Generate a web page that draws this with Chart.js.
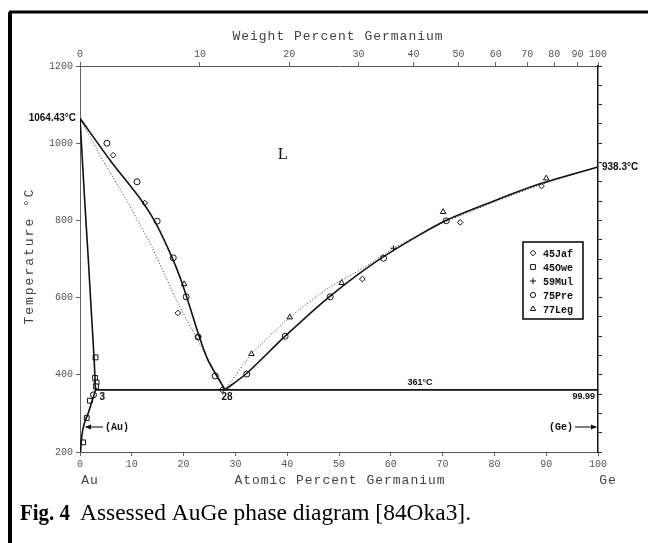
<!DOCTYPE html>
<html>
<head>
<meta charset="utf-8">
<script src="https://cdn.jsdelivr.net/npm/chart.js@4.4.1/dist/chart.umd.min.js"></script>
<style>
  html, body { margin: 0; padding: 0; background: #fff; }
  #wrap { width: 658px; height: 543px; }
</style>
</head>
<body>
<div id="wrap"><canvas id="phase" width="658" height="543"></canvas></div>
<script>
// --- DATA (atomic % Ge, temperature in °C) ---
const liqLeftX = [0, 5.8, 11.8, 14.5, 17.8, 19.7, 21.4, 22.8, 24.7, 28];
const liqLeftT = [1064.43, 956, 853, 796, 703, 638, 568, 508, 438, 361];

const calcLeftX = [0, 4.4, 9, 14, 18.6, 23.3, 28];
const calcLeftT = [1064.43, 956, 852, 728, 594, 475, 361];

const solidusX = [0, 0.9, 1.6, 2.2, 2.7, 3];
const solidusT = [1064.43, 853, 700, 560, 447, 361];

const solvusX = [0.1, 0.3, 0.6, 1.1, 1.6, 2.4, 3];
const solvusT = [200, 235, 262, 285, 301, 335, 361];

const liqRightX = [28, 32.2, 39.6, 48.3, 58.6, 70.5, 80.4, 89.1, 100];
const liqRightT = [361, 404, 500, 604, 706, 799, 853, 896, 938.3];

const calcRightX = [28, 33.1, 40.5, 48.3, 54.5, 60.5, 70.5, 80.4, 89.1, 100];
const calcRightT = [361, 454, 549, 628, 675, 728, 796, 850, 893, 938.3];

const eutecticX = [3, 99.99];
const eutecticT = [361, 361];

// experimental points
const jafPts = [[6.4, 969], [12.5, 845], [18.9, 560], [22.8, 498], [27.4, 361], [54.5, 648], [73.4, 795], [89.1, 889]];
const owePts = [[3.0, 445], [2.9, 392], [3.2, 380], [3.1, 370], [1.9, 333], [1.3, 288], [0.6, 225]];
const mulPts = [[60.5, 728]];
const prePts = [[5.2, 1000], [11, 900], [14.9, 798], [18, 703], [20.5, 602], [22.8, 498], [26.1, 397],
                [32.2, 402], [39.6, 500], [48.3, 602], [58.6, 702], [70.7, 799], [2.6, 348]];
const legPts = [[20.1, 635], [33.1, 454], [40.5, 549], [50.5, 638], [70.1, 822], [90, 909]];

// top axis (weight percent) labels
const weightTicks = [0, 10, 20, 30, 40, 50, 60, 70, 80, 90, 100];
const AU = 196.97, GE = 72.61;
function wtToAt(w) {
  if (w >= 100) return 100;
  const g = w / GE, a = (100 - w) / AU;
  return 100 * g / (g + a);
}

// --- HELPERS ---
const pairs = (xs, ys) => xs.map((x, i) => ({ x: x, y: ys[i] }));
const pts = arr => arr.map(p => ({ x: p[0], y: p[1] }));

function curve(xs, ys, dotted) {
  return {
    data: pairs(xs, ys),
    showLine: true,
    borderColor: dotted ? '#333' : '#111',
    borderWidth: dotted ? 1 : 1.6,
    borderDash: dotted ? [1, 2] : [],
    pointRadius: 0,
    tension: dotted ? 0.15 : 0.25,
    fill: false
  };
}

function marks(arr, style, r) {
  return {
    data: pts(arr),
    showLine: false,
    pointStyle: style,
    pointRadius: r,
    pointBorderColor: '#111',
    pointBackgroundColor: '#fff',
    pointBorderWidth: 1
  };
}

const legendItems = [
  { label: '45Jaf', style: 'rectRot', r: 2.8 },
  { label: '45Owe', style: 'rect', r: 3.4 },
  { label: '59Mul', style: 'cross', r: 3 },
  { label: '75Pre', style: 'circle', r: 2.6 },
  { label: '77Leg', style: 'triangle', r: 3 }
];

const monoTick = { family: 'Liberation Mono', size: 10 };

// --- DECORATION PLUGIN ---
const decor = {
  id: 'decor',
  afterDraw(chart) {
    const c = chart.ctx;
    const sx = chart.scales.x, sy = chart.scales.y;
    const X = v => sx.getPixelForValue(v), Y = v => sy.getPixelForValue(v);
    c.save();

    // figure frame
    c.strokeStyle = '#000';
    c.lineWidth = 4;
    c.beginPath(); c.moveTo(10, 543); c.lineTo(10, 12); c.stroke();
    c.lineWidth = 3;
    c.beginPath(); c.moveTo(9, 12); c.lineTo(648, 12); c.stroke();

    // axis titles
    c.fillStyle = '#444';
    c.font = '13px "Liberation Mono"';
    c.letterSpacing = '1px';
    c.textAlign = 'center'; c.textBaseline = 'middle';
    c.fillText('Weight Percent Germanium', 338, 37);
    c.fillText('Atomic Percent Germanium', 340, 481);
    c.fillText('Au', 90, 481);
    c.fillText('Ge', 608, 481);
    c.save();
    c.translate(30, 256);
    c.rotate(-Math.PI / 2);
    c.letterSpacing = '2px';
    c.fillText('Temperature °C', 0, 0);
    c.restore();
    c.letterSpacing = '0px';

    // caption
    c.fillStyle = '#000';
    c.textAlign = 'left'; c.textBaseline = 'alphabetic';
    c.font = 'bold 24px "Liberation Serif"';
    c.fillText('Fig. 4', 20, 520, 50);
    c.font = '24px "Liberation Serif"';
    c.fillText('Assessed AuGe phase diagram [84Oka3].', 80, 520, 391);

    // labels inside / around plot
    c.fillStyle = '#111';
    c.textBaseline = 'middle';
    c.font = 'bold 10px "Liberation Sans"';
    c.textAlign = 'right';
    c.fillText('1064.43°C', X(0) - 4, Y(1064.43));
    c.textAlign = 'left';
    c.fillText('938.3°C', X(100) + 4, Y(938.3));
    c.font = 'bold 9px "Liberation Sans"';
    c.textAlign = 'center';
    c.fillText('361°C', 420, Y(361) - 7);
    c.textAlign = 'right';
    c.fillText('99.99', X(100) - 3, Y(361) + 7);
    c.font = 'bold 10px "Liberation Sans"';
    c.textAlign = 'left';
    c.fillText('3', X(3) + 4, Y(361) + 7);
    c.textAlign = 'center';
    c.fillText('28', X(28) + 2, Y(361) + 7);
    c.font = '17px "Liberation Serif"';
    c.fillText('L', 283, 155);

    // (Au) and (Ge) with arrows
    c.font = 'bold 10px "Liberation Mono"';
    const ya = 427;
    c.textAlign = 'left';
    c.fillText('(Au)', 105, ya);
    c.textAlign = 'right';
    c.fillText('(Ge)', 573, ya);
    c.lineWidth = 1;
    c.beginPath(); c.moveTo(86, ya); c.lineTo(103, ya); c.moveTo(575, ya); c.lineTo(596, ya); c.stroke();
    c.beginPath(); c.moveTo(85, ya); c.lineTo(91, ya - 2.5); c.lineTo(91, ya + 2.5); c.closePath(); c.fill();
    c.beginPath(); c.moveTo(597, ya); c.lineTo(591, ya - 2.5); c.lineTo(591, ya + 2.5); c.closePath(); c.fill();

    // legend box
    const lx = 523, ly = 242, lw = 60, lh = 77;
    c.fillStyle = '#fff';
    c.fillRect(lx, ly, lw, lh);
    c.lineWidth = 1.5;
    c.strokeStyle = '#000';
    c.strokeRect(lx, ly, lw, lh);
    c.font = 'bold 10px "Liberation Mono"';
    c.textAlign = 'left';
    legendItems.forEach((it, i) => {
      const yy = ly + 11 + i * 14;
      c.lineWidth = 1;
      c.strokeStyle = '#111';
      c.fillStyle = '#fff';
      Chart.helpers.drawPoint(c, { pointStyle: it.style, radius: it.r, borderWidth: 1 }, lx + 10, yy);
      c.fillStyle = '#111';
      c.fillText(it.label, lx + 20, yy + 1);
    });

    c.restore();
  }
};

// --- CHART ---
const ctx = document.getElementById('phase').getContext('2d');
new Chart(ctx, {
  type: 'scatter',
  data: {
    datasets: [
      curve(liqLeftX, liqLeftT, false),
      curve(calcLeftX, calcLeftT, true),
      curve(solidusX, solidusT, false),
      curve(solvusX, solvusT, false),
      curve(liqRightX, liqRightT, false),
      curve(calcRightX, calcRightT, true),
      curve(eutecticX, eutecticT, false),
      marks(jafPts, 'rectRot', 2.8),
      marks(owePts, 'rect', 3.4),
      marks(mulPts, 'cross', 3),
      marks(prePts, 'circle', 3),
      marks(legPts, 'triangle', 3.2)
    ]
  },
  options: {
    responsive: false,
    animation: false,
    layout: { padding: 0 },
    plugins: { legend: { display: false }, tooltip: { enabled: false } },
    scales: {
      x: {
        type: 'linear', position: 'bottom', min: 0, max: 100,
        ticks: { stepSize: 10, color: '#555', font: monoTick, padding: 2, maxRotation: 0 },
        grid: { drawOnChartArea: false, tickLength: 4, color: '#666' },
        border: { color: '#555', dash: [1, 3], width: 1 },
        afterFit: s => { s.height = 91; }
      },
      x2: {
        type: 'linear', axis: 'x', position: 'top', min: 0, max: 100,
        afterBuildTicks: s => { s.ticks = weightTicks.map(w => ({ value: wtToAt(w) })); },
        ticks: {
          color: '#555', font: monoTick, padding: 2, maxRotation: 0, autoSkip: false,
          callback: (v, i) => String(weightTicks[i])
        },
        grid: { drawOnChartArea: false, tickLength: 4, color: '#666' },
        border: { color: '#555', dash: [1, 3], width: 1 },
        afterFit: s => { s.height = 66; }
      },
      y: {
        type: 'linear', position: 'left', min: 200, max: 1200,
        ticks: { stepSize: 200, color: '#555', font: monoTick, padding: 3, callback: v => String(v) },
        grid: { drawOnChartArea: false, tickLength: 4, color: '#666' },
        border: { color: '#666', dash: [1, 3], width: 1 },
        afterFit: s => { s.width = 80; }
      },
      y2: {
        type: 'linear', position: 'right', min: 200, max: 1200,
        ticks: { stepSize: 50, display: false },
        grid: { drawOnChartArea: false, tickLength: 4, color: '#222' },
        border: { color: '#111', width: 1.5 },
        afterFit: s => { s.width = 60; }
      }
    }
  },
  plugins: [decor]
});
</script>
</body>
</html>
